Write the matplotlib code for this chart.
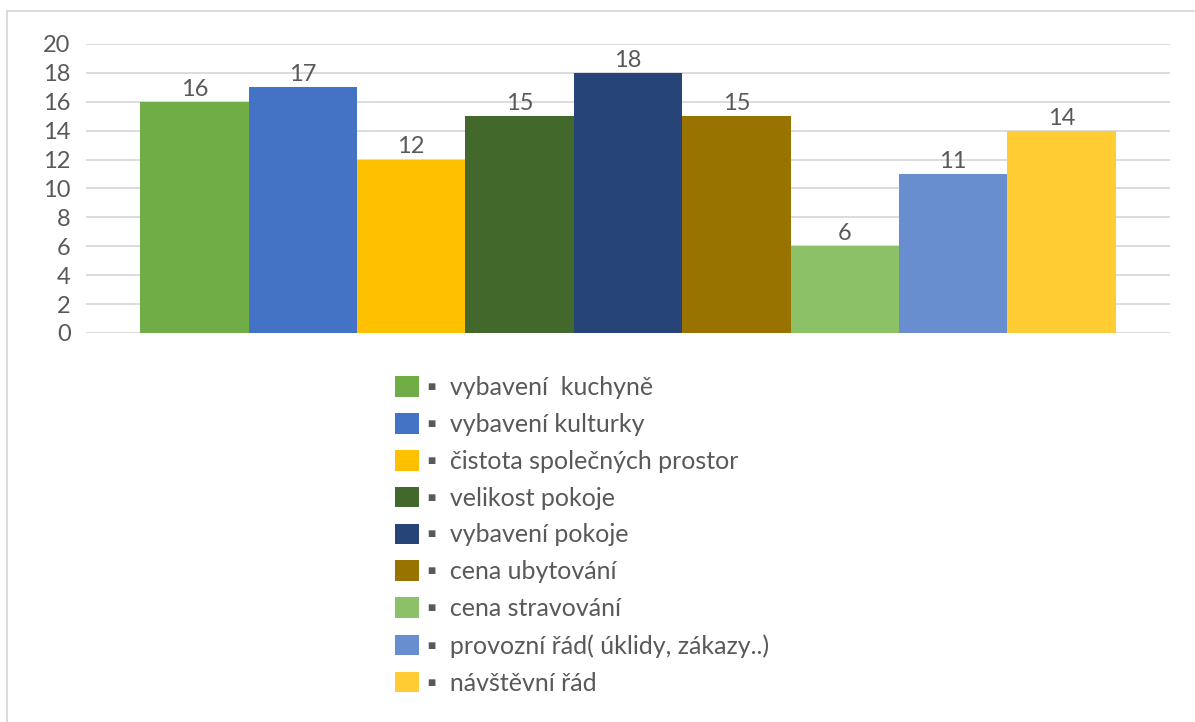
import matplotlib.pyplot as plt
from matplotlib.patches import Patch
from matplotlib.lines import Line2D

plt.rcParams['font.family'] = ['Lato', 'DejaVu Sans']

labels = ['vybavení  kuchyně', 'vybavení kulturky', 'čistota společných prostor',
          'velikost pokoje', 'vybavení pokoje', 'cena ubytování', 'cena stravování',
          'provozní řád( úklidy, zákazy..)', 'návštěvní řád']
values = [16, 17, 12, 15, 18, 15, 6, 11, 14]
colors = ['#70AD47', '#4472C4', '#FFC000', '#43682B', '#264478', '#997300',
          '#8CC168', '#698ED0', '#FFCD33']
yticks = list(range(0, 21, 2))

text_col = '#595959'
grid_col = '#D9D9D9'
fs = 17

fig = plt.figure(figsize=(11.95, 7.22), dpi=100)
ax = fig.add_axes([86 / 1195, 1 - 333 / 722, (1170 - 86) / 1195, (333 - 44) / 722])

x = list(range(len(values)))
bars = ax.bar(x, values, width=1.0, color=colors, zorder=3)
for xi, v in zip(x, values):
    ax.text(xi, v + 0.15, str(v), ha='center', va='bottom', fontsize=fs, color=text_col)

ax.set_xlim(-1, 9)
ax.set_ylim(0, 20)
ax.set_yticks(yticks)
ax.set_xticks([])
ax.yaxis.grid(True, color=grid_col, linewidth=1.3, zorder=0)
for s in ax.spines.values():
    s.set_visible(False)
ax.tick_params(axis='y', length=0, labelsize=fs, labelcolor=text_col, pad=11)

# outer frame (top and left only visible in the crop)
fig.add_artist(Line2D([7 / 1195, 7 / 1195], [0, 1 - 11 / 722], color=grid_col, lw=1.3))
fig.add_artist(Line2D([7 / 1195, 1], [1 - 11 / 722, 1 - 11 / 722], color=grid_col, lw=1.3))

handles = [Patch(facecolor=c, edgecolor='none') for c in colors]
leg = fig.legend(handles, ['▪  ' + l for l in labels], loc='upper left',
                 bbox_to_anchor=(395 / 1195, 1 - 376 / 722), frameon=False, borderpad=0,
                 borderaxespad=0, fontsize=18, labelcolor=text_col, handlelength=0.95,
                 handleheight=0.9, handletextpad=0.35, labelspacing=0.555)

fig.savefig('out.png', dpi=100)
plt.close()
